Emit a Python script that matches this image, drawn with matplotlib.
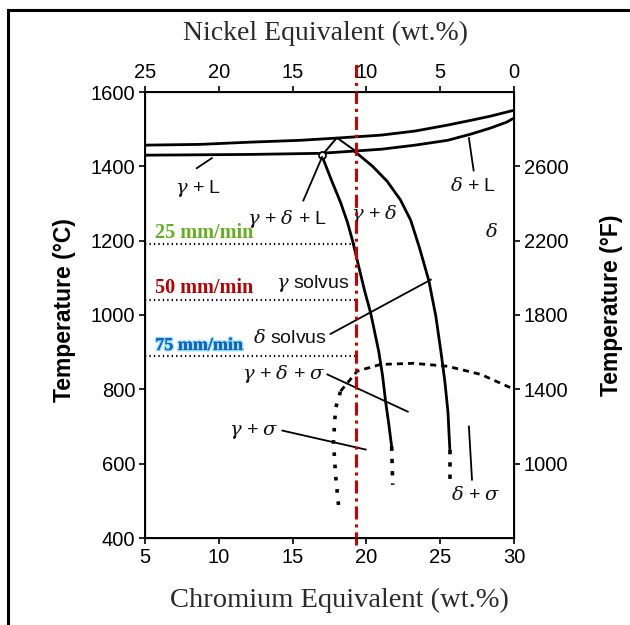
import matplotlib.pyplot as plt
from matplotlib import patheffects
from matplotlib.lines import Line2D

# Schaeffler-type constitution diagram: Cr equivalent vs temperature (deg C)
liq_cr = [5, 8.7, 12.1, 15.5, 18.0, 21.0, 23.3, 25.5, 27.1, 28.4, 29.5, 30]
liq_t = [1457, 1459, 1465, 1470, 1476, 1484, 1495, 1511, 1524, 1535, 1546, 1551]
sol_cr = [5, 12.1, 16.9, 21.0, 23.3, 25.5, 27.1, 28.4, 29.5, 30]
sol_t = [1430, 1432, 1435, 1446, 1457, 1470, 1487, 1503, 1519, 1530]

# small peritectic triangle
tri_cr = [17.0, 18.0, 19.3]
tri_t = [1430, 1477, 1440]

# gamma / gamma+delta boundary
gam_cr = [17.0, 17.64, 18.25, 18.72, 19.06, 19.47, 19.88, 20.29, 20.56, 20.83,
          21.10, 21.30, 21.51, 21.71]
gam_t = [1427, 1362, 1303, 1249, 1200, 1132, 1065, 1005, 954, 903,
         835, 767, 708, 646]
gam_ext_cr = [21.71, 21.78]
gam_ext_t = [646, 543]

# delta / gamma+delta boundary
dlt_cr = [19.27, 20.42, 21.4, 22.3, 23.0, 23.6, 24.23, 24.70, 25.04, 25.31, 25.52, 25.65]
dlt_t = [1438, 1400, 1360, 1310, 1255, 1180, 1092, 997, 903, 822, 740, 638]
dlt_ext_cr = [25.65, 25.65]
dlt_ext_t = [638, 559]

# sigma dome
sig_leg_cr = [18.11, 17.91, 17.77, 17.91, 18.25]
sig_leg_t = [489, 570, 659, 749, 795]
sig_top_cr = [18.25, 19.38, 20.96, 23.21, 25.50, 27.76, 30.0]
sig_top_t = [795, 849, 867, 870, 862, 840, 800]

# region labels and leader lines
phase_labels = [r'$\gamma$ + L', r'$\gamma$ + $\delta$ + L', r'$\gamma$ + $\delta$',
                r'$\delta$ + L', r'$\delta$', r'$\gamma$ solvus', r'$\delta$ solvus',
                r'$\gamma$ + $\delta$ + $\sigma$', r'$\gamma$ + $\sigma$', r'$\delta$ + $\sigma$']
label_cr = [8.6, 14.65, 20.55, 27.2, 28.45, 16.35, 14.8, 14.4, 12.35, 27.4]
label_t = [1340, 1259, 1273, 1346, 1224, 1084, 938, 840, 686, 516]

leaders = [
    ([8.51, 9.53], [1395, 1422]),
    ([15.73, 17.0], [1308, 1425]),
    ([26.94, 27.26], [1476, 1389]),
    ([17.57, 24.36], [949, 1095]),
    ([17.36, 22.80], [840, 740]),
    ([14.31, 19.95], [689, 638]),
    ([26.94, 27.15], [700, 557]),
]

# welding speeds
rate_labels = ['25 mm/min', '50 mm/min', '75 mm/min']
rate_temps = [1190, 1040, 890]
rate_colors = ['#62b020', '#b80000', '#1a5fc0']
rate_sizes = [14.5, 14.5, 13]
weld_cr = 19.3

c_ticks = [400, 600, 800, 1000, 1200, 1400, 1600]
f_tick_pos = [1400, 1200, 1000, 800, 600]
f_labels = ['2600', '2200', '1800', '1400', '1000']
cr_ticks = [5, 10, 15, 20, 25, 30]
ni_ticks = [25, 20, 15, 10, 5, 0]

plt.rcParams['font.family'] = ['Liberation Sans', 'DejaVu Sans']

fig = plt.figure(figsize=(6.3, 6.25), dpi=100)

# outer frame
fig.add_artist(Line2D([0.0127, 0.0127], [0.0, 0.984], color='black', lw=2.2))
fig.add_artist(Line2D([0.0127, 1.0], [0.984, 0.984], color='black', lw=2.2))

ax = fig.add_axes([0.230, 0.1392, 0.586, 0.7136])
ax.set_xlim(5, 30)
ax.set_ylim(400, 1600)

lw_phase = 2.0
ax.plot(liq_cr, liq_t, color='black', lw=lw_phase)
ax.plot(sol_cr, sol_t, color='black', lw=lw_phase)
ax.plot(tri_cr, tri_t, color='black', lw=1.4)
ax.plot(gam_cr, gam_t, color='black', lw=lw_phase)
ax.plot(gam_ext_cr, gam_ext_t, color='black', lw=2.6, ls=(0, (1.2, 2.2)))
ax.plot(dlt_cr, dlt_t, color='black', lw=lw_phase)
ax.plot(dlt_ext_cr, dlt_ext_t, color='black', lw=2.6, ls=(0, (1.2, 2.2)))
ax.plot(sig_leg_cr, sig_leg_t, color='black', lw=2.6, ls=(0, (1.0, 2.4)))
ax.plot(sig_top_cr, sig_top_t, color='black', lw=2.0, ls=(0, (2.2, 1.8)))
ax.plot([tri_cr[0]], [tri_t[0]], marker='o', ms=5, mfc='white', mec='black', mew=1.3)

for (xs, ys) in leaders:
    ax.plot(xs, ys, color='black', lw=1.3)

for txt, x, y in zip(phase_labels, label_cr, label_t):
    ax.text(x, y, txt, fontsize=14, ha='center', va='center', color='#111111',
            math_fontfamily='dejavuserif')

# welding speed cut lines
for lab, t, col, fs in zip(rate_labels, rate_temps, rate_colors, rate_sizes):
    ax.plot([5, weld_cr], [t, t], color='black', lw=1.6, ls=(0, (0.6, 1.4)))
    txt = ax.text(5.7, t + 5, lab, fontsize=fs, fontweight='bold', color=col,
                  family='Liberation Serif', ha='left', va='bottom')
    if lab.startswith('75'):
        txt.set_path_effects([patheffects.withStroke(linewidth=2.0, foreground='#8fe3ff'),
                              patheffects.Normal()])

ax.plot([weld_cr, weld_cr], [381, 1686], color='#cc0000', lw=2.2,
        ls=(0, (4.3, 1.6, 1.0, 1.6)), clip_on=False, zorder=5)

ax.set_xticks(cr_ticks)
ax.set_yticks(c_ticks)
ax.tick_params(direction='out', length=4, width=1.2, labelsize=14.5, pad=3)
for s in ax.spines.values():
    s.set_linewidth(1.4)

top = ax.twiny()
top.set_xlim(25, 0)
top.set_xticks(ni_ticks)
top.tick_params(direction='out', length=4, width=1.2, labelsize=14.5, pad=3)

right = ax.twinx()
right.set_ylim(400, 1600)
right.set_yticks(f_tick_pos)
right.set_yticklabels(f_labels)
right.tick_params(direction='out', length=4, width=1.2, labelsize=14.5, pad=3)

fig.text(0.103, 0.504, 'Temperature (°C)', rotation=90, ha='center', va='center',
         fontsize=16.5, fontweight='bold')
fig.text(0.970, 0.512, 'Temperature (°F)', rotation=90, ha='center', va='center',
         fontsize=16.5, fontweight='bold')
fig.text(0.517, 0.947, 'Nickel Equivalent (wt.%)', ha='center', va='center',
         fontsize=20, family='Liberation Serif', color='#2a2a2a')
fig.text(0.538, 0.040, 'Chromium Equivalent (wt.%)', ha='center', va='center',
         fontsize=20.5, family='Liberation Serif', color='#2a2a2a')

fig.savefig('out.png', dpi=100)
